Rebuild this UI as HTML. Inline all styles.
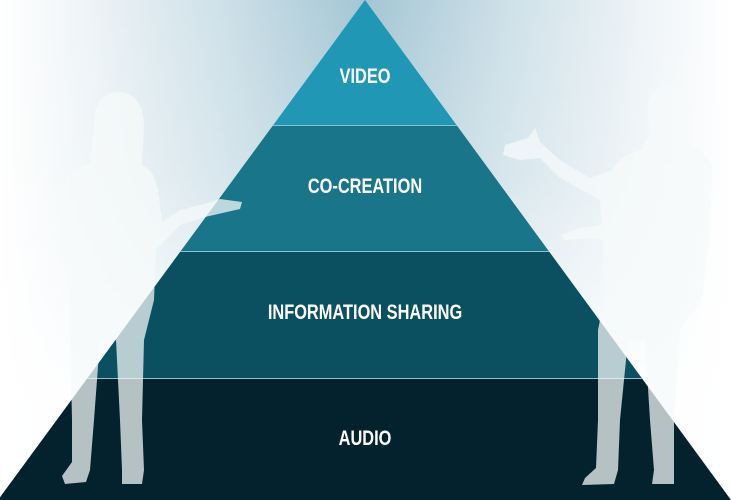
<!DOCTYPE html>
<html><head><meta charset="utf-8"><style>
html,body{margin:0;padding:0;width:731px;height:500px;overflow:hidden;background:#fff}
svg{display:block}
text{font-family:"Liberation Sans",sans-serif;font-weight:bold;fill:#fff;text-anchor:middle;font-size:21px}
</style></head><body>
<svg width="731" height="500" viewBox="0 0 731 500">
<defs>
<linearGradient id="bgh" x1="0" y1="0" x2="731" y2="0" gradientUnits="userSpaceOnUse">
<stop offset="0" stop-color="#ffffff"/>
<stop offset="0.12" stop-color="#eef4f7"/>
<stop offset="0.3" stop-color="#cfe1e9"/>
<stop offset="0.5" stop-color="#a4c6d4"/>
<stop offset="0.7" stop-color="#cfe1e9"/>
<stop offset="0.88" stop-color="#eef4f7"/>
<stop offset="1" stop-color="#ffffff"/>
</linearGradient>
<linearGradient id="bgv" x1="0" y1="0" x2="0" y2="500" gradientUnits="userSpaceOnUse">
<stop offset="0" stop-color="#fff" stop-opacity="0"/>
<stop offset="0.35" stop-color="#fff" stop-opacity="0.2"/>
<stop offset="0.8" stop-color="#fff" stop-opacity="0.9"/>
</linearGradient>
<clipPath id="pyr"><polygon points="365,0 -2,500 731,500"/></clipPath>
</defs>
<rect width="731" height="500" fill="url(#bgh)"/>
<rect width="731" height="500" fill="url(#bgv)"/>
<g clip-path="url(#pyr)">
<rect x="0" y="0" width="731" height="125" fill="#1f97b5"/>
<rect x="0" y="125" width="731" height="126" fill="#18758a"/>
<rect x="0" y="251" width="731" height="127" fill="#0b5060"/>
<rect x="0" y="378" width="731" height="122" fill="#03222d"/>
<rect x="0" y="125" width="731" height="1" fill="#8fbfcc"/>
<rect x="0" y="251" width="731" height="1" fill="#8fbfcc"/>
<rect x="0" y="378" width="731" height="1" fill="#8fbfcc"/>
</g>
<g fill="#f6f9fa" fill-opacity="0.74">
<path d="M118,92 C100,92 94,108 94,125 L90,165 C76,168 64,175 62,190 L62,250 C62,265 68,272 72,275 L70,330 L72,420 L72,462 L62,476 L65,484 L86,482 L90,470 L94,420 L100,340 L116,340 L120,420 L122,470 L122,484 L142,484 L144,470 L142,420 L144,340 L154,300 L156,250 L180,225 L205,217 L240,209 L242,202 L220,199 L205,204 L180,210 L162,222 L158,190 C155,175 150,168 142,165 L144,125 C144,105 134,92 118,92 Z"/>
<path d="M668,86 C652,86 646,98 648,115 L650,132 L642,150 C630,152 620,158 612,170 L590,178 L560,160 L540,142 L535,128 L528,138 L505,145 L503,155 L520,160 L540,158 L560,178 L600,200 L602,225 L580,228 L560,235 L565,240 L590,238 L603,240 L604,300 L598,330 L598,420 L596,468 L585,478 L582,485 L614,484 L618,470 L620,420 L628,340 L645,340 L650,420 L654,470 L652,484 L674,484 L674,470 L674,420 L680,330 L702,300 L710,230 L712,170 C710,155 700,148 690,146 L686,132 L690,110 C690,94 680,86 668,86 Z"/>
</g>
<g transform="translate(365 0) scale(0.78 1)">
<text x="0" y="83">VIDEO</text>
<text x="0" y="193">CO-CREATION</text>
<text x="0" y="319">INFORMATION SHARING</text>
<text x="0" y="445">AUDIO</text>
</g>
</svg>
</body></html>
